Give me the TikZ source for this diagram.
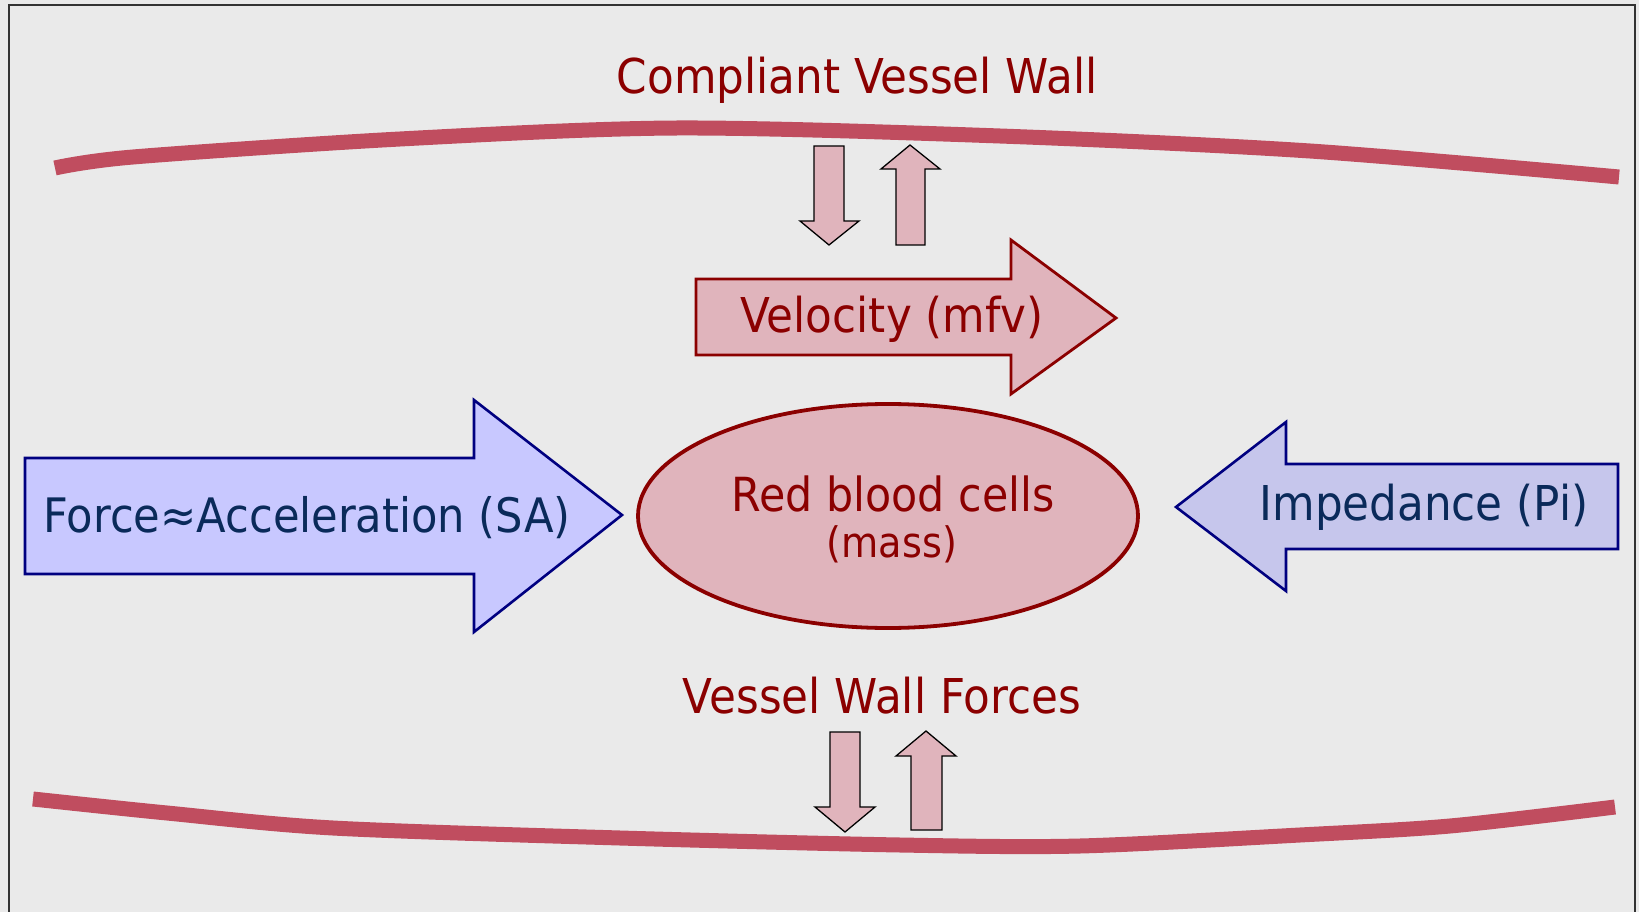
\documentclass[tikz,border=0pt]{standalone}
\usepackage{fontspec}
\setmainfont{DejaVu Sans}[FakeStretch=0.91]
\usepackage{xcolor}
\usetikzlibrary{shapes.geometric}

\definecolor{bggray}{HTML}{EAEAEA}
\definecolor{wallred}{HTML}{C04D5F}
\definecolor{pinkfill}{HTML}{E0B4BC}
\definecolor{darkred}{HTML}{8B0000}
\definecolor{navyline}{HTML}{000080}
\definecolor{navytext}{HTML}{0A2A5A}
\definecolor{forcefill}{HTML}{C8C8FF}
\definecolor{impfill}{HTML}{C6C6EC}

\begin{document}
\begin{tikzpicture}[
    x=1pt, y=-1pt,
    every node/.style={inner sep=0pt, font=\fontsize{48}{52}\selectfont},
    redtext/.style={text=darkred, anchor=base},
    bluetext/.style={text=navytext, anchor=base},
    wall/.style={draw=wallred, line width=15pt},
    smallarrow/.style={draw=black, fill=pinkfill, line width=1.3pt, line join=miter},
    velarrow/.style={draw=darkred, fill=pinkfill, line width=2.8pt},
    bluearrow/.style={draw=navyline, line width=2.6pt}
]

% background and frame
\fill[bggray] (0,0) rectangle (1639,912);
\useasboundingbox (0,0) rectangle (1639,912);
\draw[black!80, line width=2pt] (9,930) -- (9,5) -- (1635,5) -- (1635,930);

% vessel walls
\draw[wall] plot[smooth] coordinates {(55,168) (133,157) (400,139) (677,128) (1000,136) (1310,151) (1619,177)};
\draw[wall] plot[smooth] coordinates {(33,799) (167,813) (333,828) (620,838) (900,845) (1080,846) (1300,835) (1450,826) (1615,807)};

\node[redtext] (wall_top) at (857,94) {Compliant Vessel Wall};
\node[redtext] (wall_forces) at (882,713) {Vessel Wall Forces};

% small arrows at the walls
\draw[smallarrow] (814,146) -- (844,146) -- (844,221) -- (859,221) -- (829,245) -- (800,221) -- (814,221) -- cycle;
\draw[smallarrow] (896,245) -- (925,245) -- (925,169) -- (940,169) -- (910,145) -- (881,169) -- (896,169) -- cycle;
\draw[smallarrow] (830,732) -- (860,732) -- (860,807) -- (875,807) -- (845,832) -- (815,807) -- (830,807) -- cycle;
\draw[smallarrow] (911,830) -- (942,830) -- (942,756) -- (956,756) -- (926,731) -- (896,756) -- (911,756) -- cycle;

% velocity
\draw[velarrow] (696,279) -- (1011,279) -- (1011,240) -- (1116,318) -- (1011,394) -- (1011,355) -- (696,355) -- cycle;
\node[redtext] (velocity) at (892,332) {Velocity (mfv)};

% force and impedance
\draw[bluearrow, fill=forcefill] (25,458) -- (474,458) -- (474,400) -- (622,515) -- (474,632) -- (474,574) -- (25,574) -- cycle;
\node[bluetext, font=\fontsize{47.5}{52}\selectfont] (force) at (307,532) {Force≈Acceleration (SA)};

\draw[bluearrow, fill=impfill] (1618,464) -- (1286,464) -- (1286,422) -- (1176,507) -- (1286,591) -- (1286,549) -- (1618,549) -- cycle;
\node[bluetext] (impedance) at (1424,520) {Impedance (Pi)};

% red blood cells
\node[ellipse, draw=darkred, fill=pinkfill, line width=3.8pt, minimum width=500pt, minimum height=224pt] (rbc) at (888,516) {};
\node[redtext, font=\fontsize{47}{52}\selectfont] (rbc_text) at (893,511) {Red blood cells};
\node[redtext, font=\fontsize{42}{46}\selectfont] (rbc_mass) at (892,557) {(mass)};

\end{tikzpicture}
\end{document}
